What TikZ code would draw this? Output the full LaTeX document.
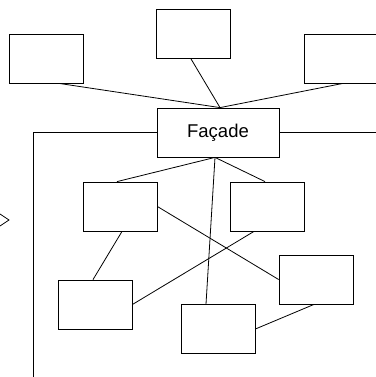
\documentclass[tikz,border=0pt]{standalone}
\usepackage{fontspec}
\setmainfont{Liberation Sans}
\begin{document}
\begin{tikzpicture}[x=1pt, y=-1pt, line width=0.8pt,
    box/.style={draw, fill=white, inner sep=0pt, minimum width=74pt, minimum height=49pt}]
      \useasboundingbox (0, 0) rectangle (375, 377);
      \node[box] (tl) at (46, 58.5) {};
      \node[box] (tc) at (193.5, 34) {};
      \node[box] (tr) at (341, 58.5) {};
      \node[box, minimum width=122pt, font=\fontsize{18.5}{22}\selectfont] (facade) at (218, 132.5) {Façade};
      \node[box] (m1) at (120, 206.5) {};
      \node[box] (m2) at (267, 206.5) {};
      \node[box] (b1) at (95, 304.5) {};
      \node[box] (b2) at (218, 329) {};
      \node[box] (b3) at (316, 279.5) {};
      \coordinate (fl) at (33, 132.5);
      \coordinate (fb) at (33, 380);
      \coordinate (fr) at (380, 132.5);
      \draw ([xshift=13pt]tl.south) -- ([xshift=2pt]facade.north);
      \draw ([xshift=-2.5pt]tc.south) -- ([xshift=2pt]facade.north);
      \draw ([xshift=2pt]tr.south) -- ([xshift=2pt]facade.north);
      \draw ([xshift=-3pt]facade.south) -- ([xshift=-3pt]m1.north);
      \draw ([xshift=-3pt]facade.south) -- ([xshift=-2pt]m2.north);
      \draw ([xshift=-3pt]facade.south) -- ([xshift=-12pt]b2.north);
      \draw ([xshift=2pt]m1.south) -- ([xshift=-2pt]b1.north);
      \draw (m1.east) -- (b3.west);
      \draw ([xshift=-13pt]m2.south) -- (b1.east);
      \draw ([xshift=-2pt]b3.south) -- (b2.east);
      \draw (facade.west) -- (fl) -- (fb);
      \draw (facade.east) -- (fr);
      \draw (0, 214) -- (9, 220) -- (0, 226);
    \end{tikzpicture}
\end{document}
